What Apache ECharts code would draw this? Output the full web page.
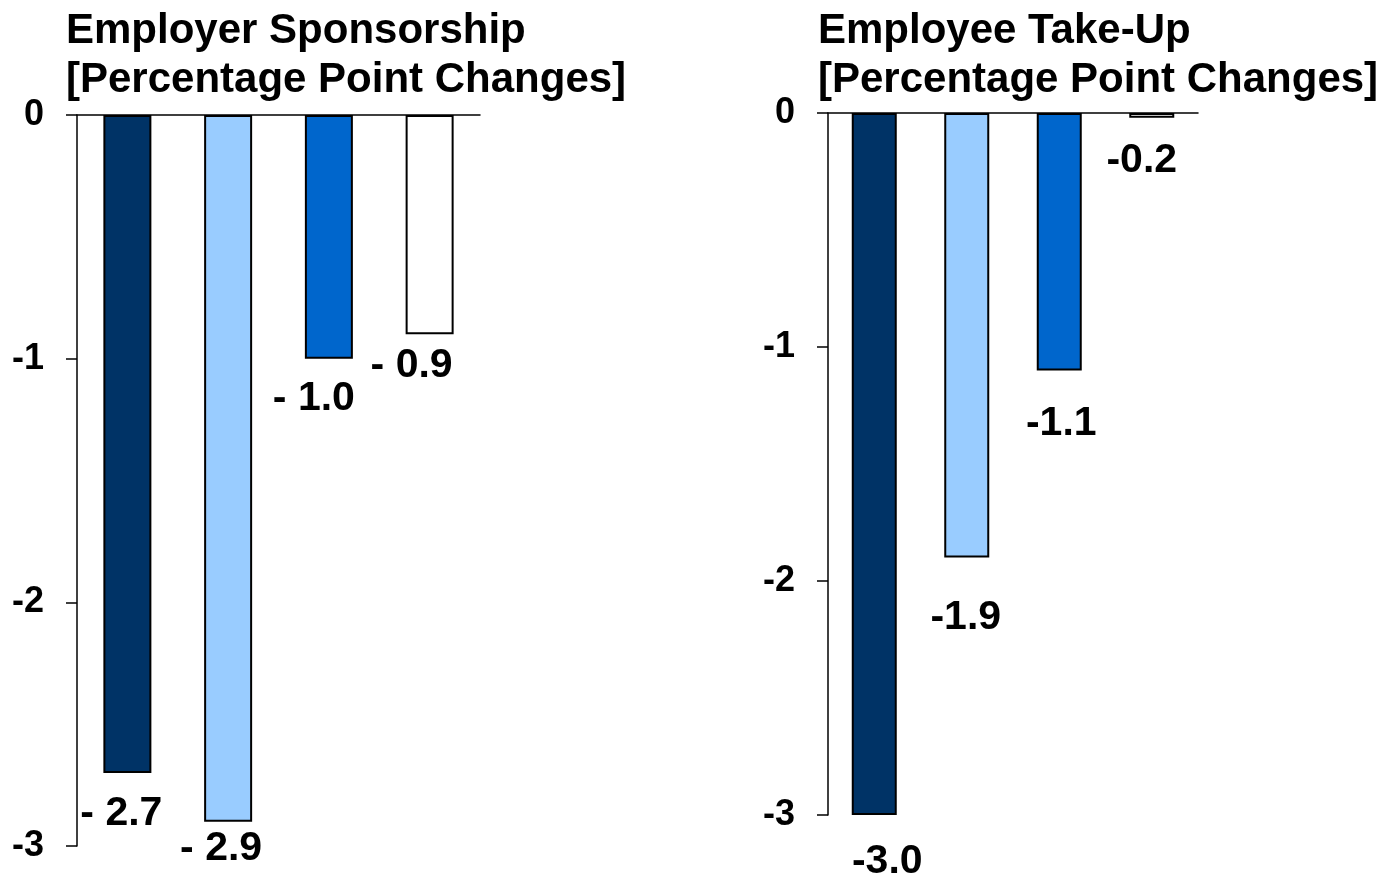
<!DOCTYPE html>
<html>
<head>
<meta charset="utf-8">
<script src="https://cdn.jsdelivr.net/npm/echarts@6/dist/echarts.min.js"></script>
<style>
html,body{margin:0;padding:0;background:#fff;}
#chart{width:1391px;height:877px;}
</style>
</head>
<body>
<div id="chart"></div>
<script>
// ---- data ----
const categories = ['1', '2', '3', '4'];
const barColors = ['#003366', '#99CCFF', '#0066CC', '#FFFFFF'];

const sponsorTitle = 'Employer Sponsorship\n[Percentage Point Changes]';
const sponsorValues = [-2.7, -2.9, -1.0, -0.9];
const sponsorLabels = ['- 2.7', '- 2.9', '- 1.0', '- 0.9'];

const takeupTitle = 'Employee Take-Up\n[Percentage Point Changes]';
const takeupValues = [-3.0, -1.9, -1.1, -0.02];
const takeupLabels = ['-3.0', '-1.9', '-1.1', '-0.2'];

const yTicks = [0, -1, -2, -3];

// ---- styling (positions of value labels relative to bar end) ----
const sponsorLabelOffsets = [[-6, 41], [-7, 27], [-15, 40], [-18, 31]];
const takeupLabelOffsets = [[13, 47], [-1, 60], [2, 53], [-10, 43]];

const FONT = '"Liberation Sans", Arial, sans-serif';

function xAxis(gridIndex) {
  return {
    type: 'category', gridIndex, data: categories, position: 'top',
    axisLine: { show: true, lineStyle: { color: '#000', width: 1.5 } },
    axisTick: { show: false }, axisLabel: { show: false }, splitLine: { show: false }
  };
}
function yAxis(gridIndex) {
  return {
    type: 'value', gridIndex, min: -3, max: 0, interval: 1,
    axisLine: { show: true, lineStyle: { color: '#000', width: 1.5 } },
    axisTick: { show: true, inside: false, length: 11, lineStyle: { color: '#000', width: 1.5 } },
    axisLabel: {
      margin: 33, color: '#000', fontSize: 36, fontWeight: 'bold', fontFamily: FONT,
      formatter: v => (yTicks.indexOf(v) >= 0 ? String(v) : '')
    },
    splitLine: { show: false }
  };
}
function barSeries(idx, values, barWidth) {
  return {
    type: 'bar', xAxisIndex: idx, yAxisIndex: idx, barWidth,
    data: values.map((v, i) => ({
      value: v,
      itemStyle: { color: barColors[i], borderColor: '#000', borderWidth: 2 }
    })),
    silent: true, animation: false
  };
}
function labelSeries(idx, values, texts, offsets) {
  return {
    type: 'scatter', xAxisIndex: idx, yAxisIndex: idx, symbolSize: 0,
    itemStyle: { color: '#000' }, z: 5, silent: true, animation: false,
    data: values.map((v, i) => ({
      value: [categories[i], v],
      label: {
        show: true, position: 'inside', formatter: texts[i], offset: offsets[i],
        color: '#000', opacity: 1, textBorderWidth: 0,
        fontSize: 41, fontWeight: 'bold', fontFamily: FONT
      }
    }))
  };
}

const titleStyle = { fontSize: 42, lineHeight: 49, fontWeight: 'bold', fontFamily: FONT, color: '#000' };

const chart = echarts.init(document.getElementById('chart'));
chart.setOption({
  backgroundColor: '#fff',
  animation: false,
  title: [
    { text: sponsorTitle, left: 66, top: 7, padding: 0, textStyle: titleStyle },
    { text: takeupTitle, left: 818, top: 7, padding: 0, textStyle: titleStyle }
  ],
  grid: [
    { left: 77, top: 115, width: 403, height: 731 },
    { left: 828, top: 113, width: 370, height: 702 }
  ],
  xAxis: [xAxis(0), xAxis(1)],
  yAxis: [yAxis(0), yAxis(1)],
  series: [
    barSeries(0, sponsorValues, 48),
    barSeries(1, takeupValues, 45),
    labelSeries(0, sponsorValues, sponsorLabels, sponsorLabelOffsets),
    labelSeries(1, takeupValues, takeupLabels, takeupLabelOffsets)
  ]
});
</script>
</body>
</html>
